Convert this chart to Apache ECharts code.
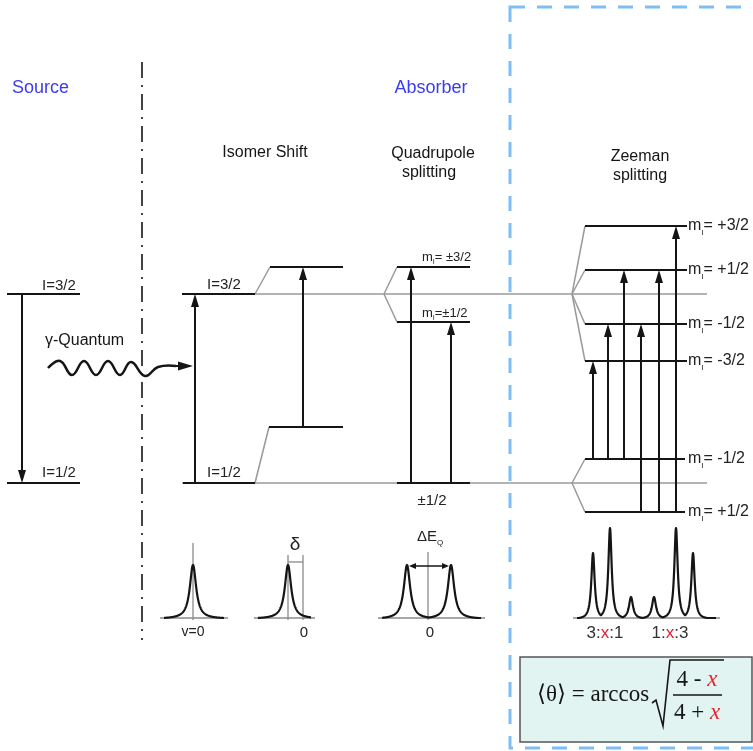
<!DOCTYPE html>
<html><head><meta charset="utf-8">
<script src="https://cdn.jsdelivr.net/npm/echarts@6/dist/echarts.min.js"></script>
<style>html,body{margin:0;padding:0;background:#fff}#c{width:753px;height:751px}</style>
</head><body><div id="c"></div>
<script>
// ---------------- data (diagram units, y grows downward) ----------------
const excitedY = 294, groundY = 483;
const refLineX = [182, 707];
const sourceLevels   = [[7, 80, 294], [7, 80, 483]];
const absorberLevels = [[182, 255, 294], [183, 255, 483]];
const isomerLevels   = [[270, 343, 267], [269, 343, 427]];
const isomerBranchX  = 255;
const quadLevels     = [[397, 470, 267], [397, 470, 322]];
const quadGround     = [397, 470, 483];
const quadBranchX    = 384;
const zeemanBranchX  = 572;
const zeemanLevelX   = [585, 687];
const zeemanUpperY   = [226, 270, 324, 361];
const zeemanLowerY   = [459, 512];
const zeemanUpperLbl = ['+3/2', '+1/2', '-1/2', '-3/2'];
const zeemanLowerLbl = ['-1/2', '+1/2'];
const zeemanTransX    = [593, 608, 624, 641, 659, 676];
const zeemanTransFrom = [459, 459, 459, 512, 512, 512];
const zeemanTransTo   = [361, 324, 270, 324, 270, 226];
// vertical arrows [x, yFrom, yTo]
const levelArrows = [[22, 294, 483], [195, 483, 294], [303, 427, 267], [411, 483, 267], [451, 483, 322]];
// gamma quantum wave (hand read) and arrow end
const gammaWave = [[48,368],[60,361],[72,375],[84,361],[96,375],[108,361],[120,375],[131,362],[145,376],[158,367],[176,366]];
const gammaArrowEnd = [193, 366];
// spectra: baseline y, range, peaks [centre, height, halfwidth, reach]
const spectrumBaseY = 618;
const spectrumRanges = [[160, 228], [254, 315], [378, 485], [573, 720]];
const spectrumPeaks = [
  [[193, 53, 3.8, 31]],
  [[288, 53, 3.8, 31]],
  [[407, 53, 3.8, 27], [451, 53, 3.8, 27]],
  [[593, 65, 2.0, 14], [610, 90, 2.0, 16], [631, 21, 2.4, 12], [654, 21, 2.4, 12], [676, 90, 2.0, 16], [693, 65, 2.0, 14]]
];
// spectrum guide lines [x1,y1,x2,y2]
const spectrumGuides = [[193, 543, 193, 620], [288, 555, 288, 620], [303, 555, 303, 620], [288, 562, 303, 562], [428, 552, 428, 620]];
const quadSplitArrow = [409, 449, 566];
// texts [text, x, y, align, style]
const texts = [
  ['Source', 12, 88, 'left', 'title'],
  ['Absorber', 431, 88, 'center', 'title'],
  ['Isomer Shift', 265, 153, 'center', 'head'],
  ['Quadrupole', 433, 154, 'center', 'head'],
  ['splitting', 429, 173, 'center', 'head'],
  ['Zeeman', 640, 157, 'center', 'head'],
  ['splitting', 640, 176, 'center', 'head'],
  ['I=3/2', 42, 286, 'left', 'lvl'],
  ['I=1/2', 42, 473, 'left', 'lvl'],
  ['I=3/2', 207, 285, 'left', 'lvl'],
  ['I=1/2', 207, 473, 'left', 'lvl'],
  ['γ-Quantum', 45, 341, 'left', 'head'],
  ['m{s|I}= ±3/2', 422, 257, 'left', 'mq'],
  ['m{s|I}=±1/2', 422, 313, 'left', 'mq'],
  ['±1/2', 432, 501, 'center', 'lvl'],
  ['v=0', 193, 632, 'center', 'small'],
  ['0', 304, 633, 'center', 'lvl'],
  ['0', 430, 633, 'center', 'lvl'],
  ['δ', 295, 545, 'center', 'delta'],
  ['ΔE{s|Q}', 430, 537, 'center', 'dq'],
  ['3:{r|x}:1', 605, 633, 'center', 'ratio'],
  ['1:{r|x}:3', 670, 633, 'center', 'ratio']
];
zeemanUpperY.forEach((y, i) => texts.push(['m{s|I}= ' + zeemanUpperLbl[i], 688, y, 'left', 'mz']));
zeemanLowerY.forEach((y, i) => texts.push(['m{s|I}= ' + zeemanLowerLbl[i], 688, y, 'left', 'mz']));
// formula box
const formulaBox = [520, 657, 752, 742];
const formulaTexts = [['⟨θ⟩ = arccos', 537, 695, 'left'], ['4 - {r|x}', 697, 680, 'center'], ['4 + {r|x}', 697, 713, 'center']];
const radical = [[652, 703], [656, 700], [663, 726], [670, 660], [724, 660]];
const fractionBar = [673, 722, 695];
const outerBox = [510, 7, 762, 748];
const dashDotX = 142, dashDotY = [62, 640];

// ---------------- build primitives ----------------
const SANS = 'Liberation Sans, Arial, sans-serif';
const SERIF = 'Liberation Serif, Times New Roman, serif';
const BLACK = '#151515', GRAY = '#9a9a9a';
const segs = [];
const seg = (x1, y1, x2, y2, c, w, dash) => segs.push({p: [x1, y1, x2, y2], c, w, dash});
seg(refLineX[0], excitedY, refLineX[1], excitedY, GRAY, 1.5);
seg(refLineX[0], groundY, refLineX[1], groundY, GRAY, 1.5);
isomerLevels.forEach((l, i) => seg(isomerBranchX, i ? groundY : excitedY, l[0], l[2], GRAY, 1.5));
quadLevels.forEach(l => seg(quadBranchX, excitedY, l[0], l[2], GRAY, 1.5));
zeemanUpperY.forEach(y => seg(zeemanBranchX, excitedY, zeemanLevelX[0], y, GRAY, 1.5));
zeemanLowerY.forEach(y => seg(zeemanBranchX, groundY, zeemanLevelX[0], y, GRAY, 1.5));
[...sourceLevels, ...absorberLevels, ...isomerLevels, ...quadLevels, quadGround].forEach(l => seg(l[0], l[2], l[1], l[2], BLACK, 2));
zeemanUpperY.forEach(y => seg(zeemanLevelX[0], y, zeemanLevelX[1], y, BLACK, 2));
zeemanLowerY.forEach(y => seg(zeemanLevelX[0], y, zeemanLevelX[1] - 2, y, BLACK, 2));
spectrumRanges.forEach(r => seg(r[0], spectrumBaseY, r[1], spectrumBaseY, '#8a8a8a', 1.5));
spectrumGuides.forEach(g => seg(g[0], g[1], g[2], g[3], '#8a8a8a', 1.3));
seg(dashDotX, dashDotY[0], dashDotX, dashDotY[1], BLACK, 1.6, [16, 7, 2, 7]);

const arrows = [];
levelArrows.forEach(a => arrows.push({a: [a[0], a[1]], b: [a[0], a[2]], h: 13, w: 8}));
zeemanTransX.forEach((x, i) => arrows.push({a: [x, zeemanTransFrom[i]], b: [x, zeemanTransTo[i]], h: 13, w: 8}));
arrows.push({a: gammaWave[gammaWave.length - 1], b: gammaArrowEnd, h: 15, w: 9});
const mid = (quadSplitArrow[0] + quadSplitArrow[1]) / 2;
arrows.push({a: [mid, quadSplitArrow[2]], b: [quadSplitArrow[0], quadSplitArrow[2]], h: 7, w: 6, lw: 1.5});
arrows.push({a: [mid, quadSplitArrow[2]], b: [quadSplitArrow[1], quadSplitArrow[2]], h: 7, w: 6, lw: 1.5});

const textStyles = {
  title: {fontSize: 18, fill: '#3b3bf0', fontFamily: SANS},
  head: {fontSize: 16, fill: BLACK, fontFamily: SANS},
  lvl: {fontSize: 15, fill: '#222', fontFamily: SANS},
  small: {fontSize: 14, fill: '#222', fontFamily: SANS},
  mq: {fontSize: 13, fill: '#222', fontFamily: SANS},
  mz: {fontSize: 16, fill: '#222', fontFamily: SANS},
  dq: {fontSize: 15, fill: '#222', fontFamily: SANS},
  delta: {fontSize: 19, fill: '#222', fontFamily: SANS},
  ratio: {fontSize: 17, fill: '#333', fontFamily: SANS}
};

function arrowEls(a, b, h, w, lw) {
  const dx = b[0] - a[0], dy = b[1] - a[1], L = Math.hypot(dx, dy) || 1, ux = dx / L, uy = dy / L;
  const bx = b[0] - ux * h, by = b[1] - uy * h, nx = -uy, ny = ux;
  return [
    {type: 'line', shape: {x1: a[0], y1: a[1], x2: bx + ux, y2: by + uy}, style: {stroke: BLACK, lineWidth: lw || 2}},
    {type: 'polygon', shape: {points: [[b[0], b[1]], [bx + nx * w / 2, by + ny * w / 2], [bx - nx * w / 2, by - ny * w / 2]]}, style: {fill: BLACK}}
  ];
}

function profile(x, peaks) {
  let v = 0;
  peaks.forEach(p => {
    const d = Math.abs(x - p[0]);
    if (d < p[3]) {
      const L = 1 / (1 + (d / p[2]) ** 2), LR = 1 / (1 + (p[3] / p[2]) ** 2);
      v = Math.max(v, p[1] * (L - LR) / (1 - LR));
    }
  });
  return v;
}

const chart = echarts.init(document.getElementById('c'), null, {renderer: 'canvas'});
const custom = (data, renderItem, z) => ({type: 'custom', coordinateSystem: 'cartesian2d', data, renderItem, clip: false, silent: true, z: z || 2, animation: false});

chart.setOption({
  animation: false,
  backgroundColor: '#fff',
  grid: {left: 0, right: 0, top: 0, bottom: 0},
  xAxis: {type: 'value', min: 0, max: 753, show: false},
  yAxis: {type: 'value', min: 0, max: 751, inverse: true, show: false},
  series: [
    custom([[outerBox[0], outerBox[1]]], (p, api) => {
      const a = api.coord([outerBox[0], outerBox[1]]), b = api.coord([outerBox[2], outerBox[3]]);
      const fa = api.coord([formulaBox[0], formulaBox[1]]), fb = api.coord([formulaBox[2], formulaBox[3]]);
      return {type: 'group', children: [
        {type: 'rect', shape: {x: a[0], y: a[1], width: b[0] - a[0], height: b[1] - a[1]}, style: {fill: null, stroke: '#7fbdf5', lineWidth: 3, lineDash: [15, 12]}},
        {type: 'rect', shape: {x: fa[0], y: fa[1], width: fb[0] - fa[0], height: fb[1] - fa[1]}, style: {fill: '#e2f4f1', stroke: '#555', lineWidth: 1.5}}
      ]};
    }, 1),
    custom(segs.map(s => [s.p[0], s.p[1]]), (p, api) => {
      const s = segs[p.dataIndex];
      const a = api.coord([s.p[0], s.p[1]]), b = api.coord([s.p[2], s.p[3]]);
      return {type: 'line', shape: {x1: a[0], y1: a[1], x2: b[0], y2: b[1]}, style: {stroke: s.c, lineWidth: s.w, lineDash: s.dash || null}};
    }, 2),
    custom(arrows.map(s => s.a), (p, api) => {
      const s = arrows[p.dataIndex];
      return {type: 'group', children: arrowEls(api.coord(s.a), api.coord(s.b), s.h, s.w, s.lw)};
    }, 3),
    custom([gammaWave[0]], (p, api) => ({
      type: 'polyline', shape: {points: gammaWave.map(q => api.coord(q)), smooth: 0.45},
      style: {stroke: BLACK, lineWidth: 2.5, fill: null}
    }), 3),
    custom(spectrumRanges.map(r => [r[0], spectrumBaseY]), (p, api) => {
      const r = spectrumRanges[p.dataIndex], peaks = spectrumPeaks[p.dataIndex];
      const pts = [];
      for (let x = r[0] + 4; x <= r[1] - 4; x += 0.25) pts.push(api.coord([x, spectrumBaseY - profile(x, peaks)]));
      return {type: 'polyline', shape: {points: pts}, style: {stroke: BLACK, lineWidth: 2.2, fill: null, lineJoin: 'round'}};
    }, 3),
    custom([radical[0]], (p, api) => {
      const a = api.coord([fractionBar[0], fractionBar[2]]), b = api.coord([fractionBar[1], fractionBar[2]]);
      return {type: 'group', children: [
        {type: 'polyline', shape: {points: radical.map(q => api.coord(q))}, style: {stroke: BLACK, lineWidth: 1.6, fill: null}},
        {type: 'line', shape: {x1: a[0], y1: a[1], x2: b[0], y2: b[1]}, style: {stroke: BLACK, lineWidth: 1.4}}
      ]};
    }, 3),
    custom(texts.map(t => [t[1], t[2]]), (p, api) => {
      const t = texts[p.dataIndex], st = textStyles[t[4]], c = api.coord([t[1], t[2]]);
      return {type: 'text', x: c[0], y: c[1], style: Object.assign({
        text: t[0], align: t[3], verticalAlign: 'middle', lineHeight: st.fontSize + 5,
        rich: {
          s: {fontSize: Math.round(st.fontSize * 0.5), fontFamily: SANS, fill: st.fill, verticalAlign: 'bottom', lineHeight: Math.round(st.fontSize * 0.5)},
          r: {fontSize: st.fontSize, fontFamily: SANS, fill: '#e8202a', lineHeight: st.fontSize + 5}
        }
      }, st)};
    }, 4),
    custom(formulaTexts.map(t => [t[1], t[2]]), (p, api) => {
      const t = formulaTexts[p.dataIndex], c = api.coord([t[1], t[2]]);
      return {type: 'text', x: c[0], y: c[1], style: {
        text: t[0], align: t[3], verticalAlign: 'middle', fontSize: 23, fontFamily: SERIF, fill: BLACK,
        rich: {r: {fontSize: 23, fontFamily: SERIF, fontStyle: 'italic', fill: '#e8202a'}}
      }};
    }, 4)
  ]
});
</script></body></html>
